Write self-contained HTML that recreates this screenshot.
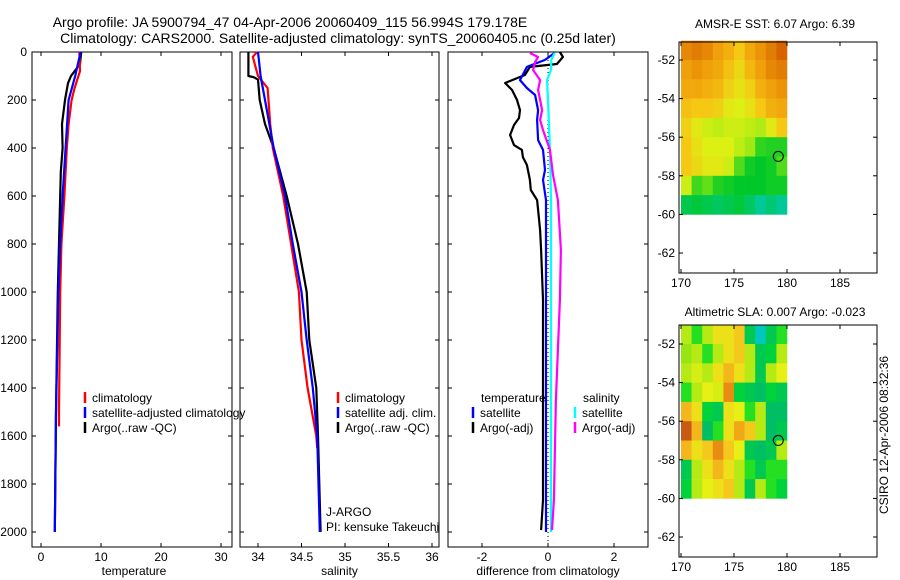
<!DOCTYPE html>
<html><head><meta charset="utf-8">
<style>
html,body{margin:0;padding:0;background:#fff;}
svg{display:block;font-family:"Liberation Sans",sans-serif;}
text{font-size:12px;fill:#000;}
</style></head>
<body>
<svg id="fig" width="900" height="580" viewBox="0 0 900 580" xmlns="http://www.w3.org/2000/svg">
<text x="290" y="27" text-anchor="middle" style="font-size:14px">Argo profile: JA 5900794_47 04-Apr-2006 20060409_115 56.994S 179.178E</text>
<text x="338" y="43" text-anchor="middle" style="font-size:14px">Climatology: CARS2000. Satellite-adjusted climatology: synTS_20060405.nc (0.25d later)</text>
<text x="775" y="28" text-anchor="middle">AMSR-E SST: 6.07 Argo: 6.39</text>
<text x="775" y="316" text-anchor="middle">Altimetric SLA: 0.007 Argo: -0.023</text>
<text transform="translate(888,435) rotate(-90)" text-anchor="middle">CSIRO 12-Apr-2006 08:32:36</text>
<g id="plots"></g>
</svg>
<script>
// depth ticks
const depthTicks = [0,200,400,600,800,1000,1200,1400,1600,1800,2000];
// Temperature panel
const tDepthArgo = [0,50,100,130,200,300,400,500,600,800,1000,1500,2000];
const tArgo = [6.7,6.5,5.0,4.5,4.0,3.5,3.6,3.3,3.2,3.0,2.8,2.5,2.3];
const tDepthClim = [0,80,150,200,300,400,600,800,1000,1500,1560];
const tClim = [6.4,6.5,5.6,5.1,4.6,4.3,3.9,3.4,3.2,3.0,3.0];
const tDepthSat = [0,100,200,400,600,800,1000,1500,2000];
const tSat = [6.6,5.7,4.6,4.1,3.6,3.2,2.9,2.5,2.3];
const tTicks = [0,10,20,30];
// Salinity panel
const sDepthArgo = [0,100,105,115,200,300,400,600,800,1000,1200,1400,1600,2000];
const sArgo = [33.89,33.89,33.95,34.0,34.02,34.08,34.18,34.33,34.46,34.56,34.59,34.67,34.69,34.72];
const sDepthClim = [0,20,100,150,300,400,600,800,1000,1200,1400,1600,1650];
const sClim = [33.99,33.94,34.0,34.11,34.14,34.17,34.29,34.38,34.47,34.5,34.57,34.67,34.68];
const sDepthSat = [0,100,200,400,600,800,1000,1200,1400,1600,2000];
const sSat = [34.0,34.03,34.08,34.18,34.31,34.4,34.5,34.56,34.63,34.68,34.71];
const sTicks = [34,34.5,35,35.5,36];
// Difference panel
const dDepthArgoT = [0,21,50,62,96,129,158,200,242,275,304,346,388,408,438,471,512,533,575,617,658,742,825,1033,1450,1867,1992];
const dArgoT = [0.36,0.45,0.27,-0.55,-0.7,-1.3,-1.09,-0.94,-0.85,-0.88,-1.03,-1.15,-1.03,-0.79,-0.76,-0.64,-0.58,-0.55,-0.52,-0.33,-0.3,-0.24,-0.21,-0.15,-0.15,-0.15,-0.21];
const dDepthSatT = [4,33,62,117,150,179,242,283,367,408,492,533,617,825,1033,1450,2000];
const dSatT = [0.2,-0.09,-0.64,-0.85,-0.64,-0.39,-0.3,-0.33,-0.3,-0.15,-0.09,-0.15,-0.06,-0.06,-0.06,-0.06,-0.06];
const dDepthSatS = [4,33,75,117,200,408,617,1033,1450,2000];
const dSatS = [0.2,0.1,0.09,-0.03,0,0.06,0.09,0.09,0.09,0.09];
const dDepthArgoS = [4,21,42,75,117,158,242,283,325,408,512,617,825,1033,1450,1867,1992];
const dArgoS = [-0.55,-0.3,-0.39,-0.45,-0.24,-0.3,-0.18,-0.24,-0.15,0.06,0.15,0.3,0.39,0.36,0.24,0.18,0.12];
const dTicks = [-2,0,2];
// Maps (rows lat -51.5..-59.5, cols lon 170.5..179.5)
const mapLats = [-51.5,-52.5,-53.5,-54.5,-55.5,-56.5,-57.5,-58.5,-59.5];
const mapLons = [170.5,171.5,172.5,173.5,174.5,175.5,176.5,177.5,178.5,179.5];
const sstGrid = [
[7.3,7.4,7.3,7.1,6.9,6.6,7.0,7.2,7.4,7.6],
[7.1,7.2,7.1,7.0,6.7,6.4,6.8,7.1,7.3,7.4],
[7.0,7.0,6.9,6.8,6.5,6.3,6.5,6.9,7.1,7.2],
[6.7,6.6,6.6,6.5,6.2,6.1,6.3,6.6,6.9,7.0],
[6.5,6.2,6.0,5.9,6.0,6.0,5.9,5.8,6.2,6.6],
[6.6,6.3,6.1,6.1,6.1,5.9,5.7,5.0,4.9,4.9],
[6.6,6.4,6.2,6.2,6.0,5.2,4.8,4.7,4.8,5.2],
[6.0,5.1,5.3,4.9,4.8,4.7,4.7,4.7,4.8,4.8],
[4.5,4.6,4.5,4.4,4.5,4.6,4.4,4.1,4.3,4.1]];
const slaGrid = [
[0,-0.05,0,0.05,0.05,0.08,-0.1,-0.2,-0.1,-0.05],
[-0.02,0,-0.05,0,0.05,0.08,0,-0.1,-0.08,0],
[0,0.02,0,0.05,0.1,0.05,0,-0.1,0,0.03],
[-0.05,0,0.03,0.02,0.15,-0.08,-0.1,-0.12,-0.08,-0.1],
[0.1,0.05,-0.08,-0.1,0.05,0.03,-0.05,0,-0.12,-0.12],
[0.2,0.1,-0.12,-0.05,0.05,0.12,0.08,0,-0.12,-0.1],
[0.1,0.05,0.08,0.15,0.08,0.03,-0.1,-0.12,-0.1,0],
[-0.1,0,0.05,0.1,0.05,0,-0.05,-0.1,-0.05,-0.05],
[-0.08,0,0.03,0.05,0.08,0,-0.1,0,-0.05,-0.08]];
const lonTicks = [170,175,180,185];
const latTicks = [-52,-54,-56,-58,-60,-62];
const argoLon = 179.178, argoLat = -56.994;

const NS = "http://www.w3.org/2000/svg";
const root = document.getElementById('plots');
function mk(tag, attrs, parent){const e=document.createElementNS(NS,tag);for(const k in attrs)e.setAttribute(k,attrs[k]);(parent||root).appendChild(e);return e;}
function txt(x,y,s,anchor,parent){const t=mk('text',{x:x,y:y,'text-anchor':anchor||'middle'},parent);t.textContent=s;return t;}

const yDepth = d => 52 + d*0.24;
const panels = [
 {x0:32,x1:232,sx:v=>41+6*v,ticks:tTicks,label:'temperature',name:'temperature'},
 {x0:240,x1:439,sx:v=>258+87*(v-34),ticks:sTicks,label:'salinity',name:'salinity'},
 {x0:448,x1:648,sx:v=>548+33*v,ticks:dTicks,label:'difference from climatology',name:'difference'}];
const yTop=52, yBot=547;

panels.forEach((p,i)=>{
  const g=mk('g',{});
  
  
  const r=mk('rect',{x:p.x0,y:yTop,width:p.x1-p.x0,height:yBot-yTop,fill:'none',stroke:'#000','stroke-width':1},g);
  
  
  depthTicks.forEach(d=>{
    const y=yDepth(d);
    mk('line',{x1:p.x0,x2:p.x0+4,y1:y,y2:y,stroke:'#000'},g);
    mk('line',{x1:p.x1,x2:p.x1-4,y1:y,y2:y,stroke:'#000'},g);
    if(i===0){const t=txt(27,y+4,String(d),'end',g);
      
      }
  });
  p.ticks.forEach(v=>{
    const x=p.sx(v);
    mk('line',{x1:x,x2:x,y1:yBot,y2:yBot-4,stroke:'#000'},g);
    mk('line',{x1:x,x2:x,y1:yTop,y2:yTop+4,stroke:'#000'},g);
    const t=txt(x,561,String(v),'middle',g);
    
    
  });
  const xl=txt((p.x0+p.x1)/2-(i===0?-2:0),575,p.label,'middle',g);
  
  
});

function line(depths, vals, sx, color, name){
  const pts=depths.map((d,k)=>sx(vals[k]).toFixed(1)+','+yDepth(d).toFixed(1)).join(' ');
  const l=mk('polyline',{points:pts,fill:'none',stroke:color,'stroke-width':2.2,'stroke-linejoin':'round'});
  
  
}
const z=mk('line',{x1:548,x2:548,y1:yTop,y2:yBot,stroke:'#000','stroke-dasharray':'1,3'});



line(tDepthArgo,tArgo,panels[0].sx,'#000','temperature-argo-line');
line(tDepthClim,tClim,panels[0].sx,'#f00','temperature-climatology-line');
line(tDepthSat,tSat,panels[0].sx,'#00f','temperature-satellite-line');
line(sDepthArgo,sArgo,panels[1].sx,'#000','salinity-argo-line');
line(sDepthClim,sClim,panels[1].sx,'#f00','salinity-climatology-line');
line(sDepthSat,sSat,panels[1].sx,'#00f','salinity-satellite-line');
line(dDepthArgoT,dArgoT,panels[2].sx,'#000','diff-temperature-argo-line');
line(dDepthSatT,dSatT,panels[2].sx,'#00f','diff-temperature-satellite-line');
line(dDepthSatS,dSatS,panels[2].sx,'#0ff','diff-salinity-satellite-line');
line(dDepthArgoS,dArgoS,panels[2].sx,'#f0f','diff-salinity-argo-line');

function legend(x,y,color,label){
  const g=mk('g',{});
  
  
  mk('line',{x1:x,x2:x,y1:y-10,y2:y+1,stroke:color,'stroke-width':2.5},g);
  txt(x+7,y,label,'start',g);
}
legend(85,402,'#f00','climatology');
legend(85,417,'#00f','satellite-adjusted climatology');
legend(85,432,'#000','Argo(..raw -QC)');
legend(338,402,'#f00','climatology');
legend(338,417,'#00f','satellite adj. clim.');
legend(338,432,'#000','Argo(..raw -QC)');
txt(481,402,'temperature','start');
txt(583,402,'salinity','start');
legend(473,417,'#00f','satellite');
legend(473,432,'#000','Argo(-adj)');
legend(575,417,'#0ff','satellite');
legend(575,432,'#f0f','Argo(-adj)');
txt(326,516,'J-ARGO','start');
txt(326,531,'PI: kensuke Takeuchi','start');

function lerpColor(stops,v){
  if(v<=stops[0][0])return stops[0][1];
  for(let k=1;k<stops.length;k++){if(v<=stops[k][0]){const a=stops[k-1],b=stops[k];const t=(v-a[0])/(b[0]-a[0]);
    return 'rgb('+a[1].map((c,j)=>Math.round(c+(b[1][j]-c)*t)).join(',')+')';}}
  return 'rgb('+stops[stops.length-1][1].join(',')+')';
}
function col(stops,v){const c=lerpColor(stops,v);return typeof c==='string'?c:'rgb('+c.join(',')+')';}
const sstStops=[[4.0,[0,200,170]],[4.7,[0,200,40]],[5.5,[130,230,20]],[6.1,[220,240,20]],[6.6,[245,200,20]],[7.1,[240,160,10]],[7.6,[215,100,0]]];
const slaStops=[[-0.2,[0,200,190]],[-0.12,[0,190,100]],[-0.06,[0,220,40]],[-0.02,[150,230,20]],[0.03,[230,240,20]],[0.08,[245,200,30]],[0.14,[240,150,20]],[0.2,[200,90,20]]];

function map(top,bot,grid,stops,name){
  const ax0=679, ax1=877;
  const lx=v=>681+(v-170)*10.6;
  const ly=v=>(top===42?60:344)+(-52-v)*19.3;
  const g=mk('g',{});
  
  
  mapLats.forEach((la,r)=>mapLons.forEach((lo,c)=>{
    const cell=mk('rect',{x:lx(lo-0.5).toFixed(1),y:ly(la+0.5).toFixed(1),width:10.9,height:19.6,fill:col(stops,grid[r][c])},g);
    
    
  }));
  mk('rect',{x:ax0,y:top,width:ax1-ax0,height:bot-top,fill:'none',stroke:'#000'},g);
  lonTicks.forEach(v=>{const x=lx(v);mk('line',{x1:x,x2:x,y1:bot,y2:bot-4,stroke:'#000'},g);mk('line',{x1:x,x2:x,y1:top,y2:top+4,stroke:'#000'},g);
    const t=txt(x,bot+14,String(v),'middle',g);
    
    });
  latTicks.forEach(v=>{const y=ly(v);mk('line',{x1:ax0,x2:ax0+4,y1:y,y2:y,stroke:'#000'},g);mk('line',{x1:ax1,x2:ax1-4,y1:y,y2:y,stroke:'#000'},g);
    const t=txt(ax0-4,y+4,String(v),'end',g);
    
    });
  const c=mk('circle',{cx:lx(argoLon),cy:ly(argoLat),r:5,fill:'none',stroke:'#000'},g);
  
  
}
map(42,273,sstGrid,sstStops,'sst');
map(325,557,slaGrid,slaStops,'sla');
</script>
</body></html>
